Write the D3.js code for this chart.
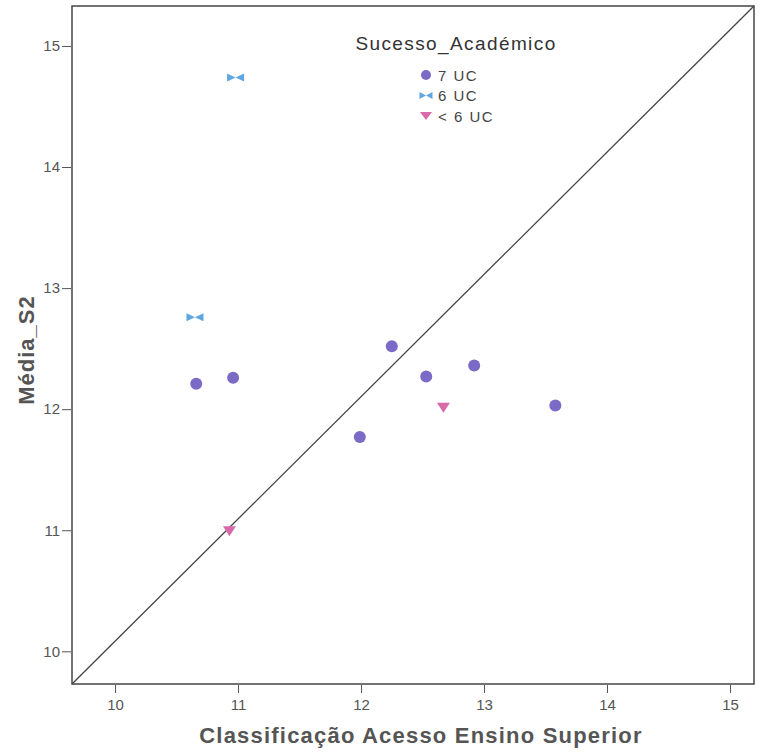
<!DOCTYPE html>
<html>
<head>
<meta charset="utf-8">
<script src="https://cdn.jsdelivr.net/npm/d3@7"></script>
<style>
  body { margin: 0; background: #fff; }
  text { font-family: "Liberation Sans", Arial, sans-serif; }
</style>
</head>
<body>
<div id="chart"></div>
<script>
// values
const circleX = [10.66, 10.96, 11.99, 12.25, 12.53, 12.92, 13.58];
const circleY = [12.21, 12.26, 11.77, 12.52, 12.27, 12.36, 12.03];
const bowtieX = [10.65, 10.98];
const bowtieY = [12.76, 14.74];
const triX = [10.93, 12.67];
const triY = [11.00, 12.02];
const ticks = [10, 11, 12, 13, 14, 15];
const groups = ['7 UC', '6 UC', '< 6 UC'];

const width = 764, height = 753;
const margin = {top: 6, right: 10, bottom: 69, left: 72};

const svg = d3.select('#chart').append('svg')
  .attr('width', width)
  .attr('height', height);

const x = d3.scaleLinear().domain([9.65, 15.195]).range([margin.left, width - margin.right]);
const y = d3.scaleLinear().domain([9.73, 15.33]).range([height - margin.bottom, margin.top]);

// y = x style reference diagonal, corner to corner
svg.append('line')
  .attr('x1', x(x.domain()[0])).attr('y1', y(y.domain()[0]))
  .attr('x2', x(x.domain()[1])).attr('y2', y(y.domain()[1]))
  .attr('stroke', '#444')
  .attr('stroke-width', 1.3);

// frame
svg.append('rect')
  .attr('x', margin.left).attr('y', margin.top)
  .attr('width', width - margin.left - margin.right)
  .attr('height', height - margin.top - margin.bottom)
  .attr('fill', 'none')
  .attr('stroke', '#444')
  .attr('stroke-width', 1.5);

// axes
const xAxis = svg.append('g')
  .attr('transform', `translate(0,${height - margin.bottom + 1})`)
  .call(d3.axisBottom(x).tickValues(ticks).tickSize(8).tickPadding(6).tickFormat(d3.format('d')));
const yAxis = svg.append('g')
  .attr('transform', `translate(${margin.left - 1},0)`)
  .call(d3.axisLeft(y).tickValues(ticks).tickSize(9).tickPadding(2).tickFormat(d3.format('d')));
[xAxis, yAxis].forEach(a => {
  a.select('.domain').remove();
  a.selectAll('line').attr('stroke', '#555');
  a.selectAll('text').attr('fill', '#555').style('font-size', '15px');
});

// markers
const purple = '#7b6ac6', blue = '#5ea6df', pink = '#d86aa9';
const bowtie = 'M-8.5,-4 L0,0 L-8.5,4 Z M8.5,-4 L0,0 L8.5,4 Z';
const tri = 'M-6.5,-4 L6.5,-4 L0,6 Z';

svg.append('g').selectAll('circle')
  .data(circleX.map((d, i) => [d, circleY[i]]))
  .join('circle')
  .attr('cx', d => x(d[0])).attr('cy', d => y(d[1]))
  .attr('r', 6)
  .attr('fill', purple);

svg.append('g').selectAll('path')
  .data(bowtieX.map((d, i) => [d, bowtieY[i]]))
  .join('path')
  .attr('d', bowtie)
  .attr('transform', d => `translate(${x(d[0])},${y(d[1])})`)
  .attr('fill', blue);

svg.append('g').selectAll('path')
  .data(triX.map((d, i) => [d, triY[i]]))
  .join('path')
  .attr('d', tri)
  .attr('transform', d => `translate(${x(d[0])},${y(d[1])})`)
  .attr('fill', pink);

// legend
const legend = svg.append('g');
legend.append('text')
  .attr('x', 456).attr('y', 50)
  .attr('text-anchor', 'middle')
  .attr('fill', '#333')
  .style('font-size', '19px')
  .style('letter-spacing', '1.4px')
  .text('Sucesso_Académico');

const shapes = [
  g => g.append('circle').attr('r', 5).attr('fill', purple),
  g => g.append('path').attr('d', 'M-6.5,-3.5 L0,0 L-6.5,3.5 Z M6.5,-3.5 L0,0 L6.5,3.5 Z').attr('fill', blue),
  g => g.append('path').attr('d', 'M-6,-4 L6,-4 L0,4 Z').attr('fill', pink)
];
groups.forEach((name, i) => {
  const row = legend.append('g').attr('transform', `translate(426,${75 + i * 20.5})`);
  shapes[i](row);
  row.append('text')
    .attr('x', 12).attr('y', 5.5)
    .attr('fill', '#444')
    .style('font-size', '15px')
    .style('letter-spacing', '1.5px')
    .text(name);
});

// axis titles
svg.append('text')
  .attr('x', 421).attr('y', 743)
  .attr('text-anchor', 'middle')
  .attr('fill', '#555')
  .style('font-size', '22px')
  .style('font-weight', 'bold')
  .style('letter-spacing', '1.2px')
  .text('Classificação Acesso Ensino Superior');

svg.append('text')
  .attr('transform', 'translate(34,350) rotate(-90)')
  .attr('text-anchor', 'middle')
  .attr('fill', '#555')
  .style('font-size', '22px')
  .style('font-weight', 'bold')
  .style('letter-spacing', '1px')
  .text('Média_S2');
</script>
</body>
</html>
